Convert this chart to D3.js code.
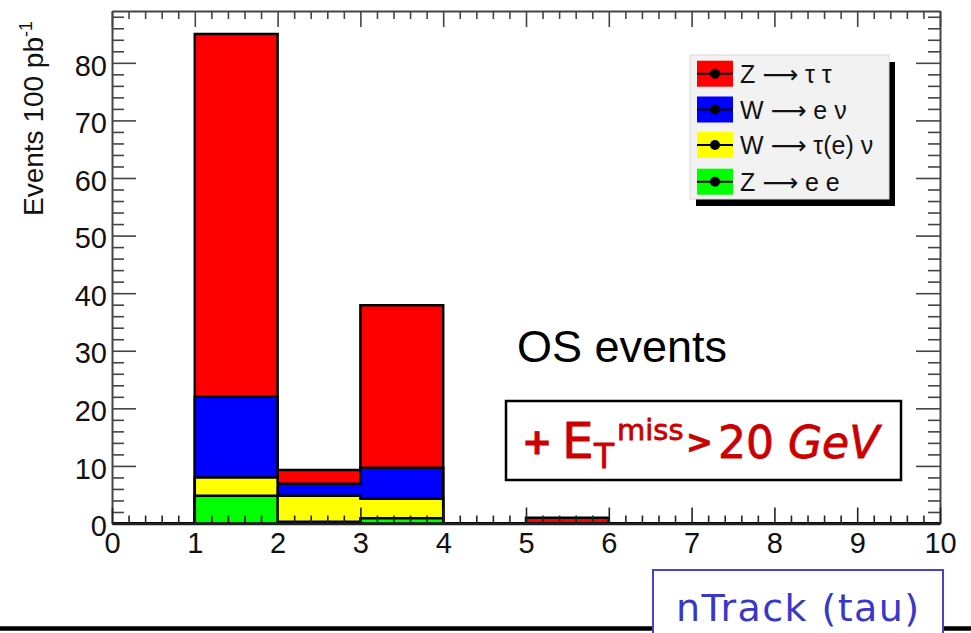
<!DOCTYPE html>
<html>
<head>
<meta charset="utf-8">
<script src="https://cdn.jsdelivr.net/npm/d3@7/dist/d3.min.js"></script>
<style>
  html, body { margin: 0; padding: 0; background: #fff; }
  svg { display: block; }
</style>
</head>
<body>
<svg id="chart" width="971" height="633"></svg>
<script>
// nTrack(tau) bins: lower edges 0..9, width 1
const binEdges = [0, 1, 2, 3, 4, 5, 6, 7, 8, 9, 10];

// Stacked contributions per bin (events / 100 pb^-1), bottom to top
const zee     = [0, 4.8, 0.3, 0.9, 0, 0,   0, 0, 0, 0];
const wtaunu  = [0, 3.2, 4.5, 3.4, 0, 0,   0, 0, 0, 0];
const wenu    = [0, 14.0, 2.1, 5.4, 0, 0,  0, 0, 0, 0];
const ztautau = [0, 63.0, 2.4, 28.2, 0, 1.0, 0, 0, 0, 0];

const seriesKeys   = ["zee", "wtaunu", "wenu", "ztautau"];
const seriesColors = { zee: "#00ff00", wtaunu: "#ffff00", wenu: "#0000ff", ztautau: "#ff0000" };

// Legend order (top to bottom): [lead, decay products]
const legendKeys   = ["ztautau", "wenu", "wtaunu", "zee"];
const legendLabels = [["Z", "\u03c4 \u03c4"], ["W", "e \u03bd"], ["W", "\u03c4(e) \u03bd"], ["Z", "e e"]];

const yMajorTicks = [0, 10, 20, 30, 40, 50, 60, 70, 80];
const xMajorTicks = [0, 1, 2, 3, 4, 5, 6, 7, 8, 9, 10];
const yMax = 89;

const svg = d3.select("#chart");
const frame = { left: 112, right: 940, top: 11, bottom: 523.5 };

const x = d3.scaleLinear().domain([0, 10]).range([frame.left, frame.right]);
const y = d3.scaleLinear().domain([0, yMax]).range([frame.bottom, frame.top]);

// Rows for d3.stack
const rows = binEdges.slice(0, -1).map((lo, i) => ({
  lo, zee: zee[i], wtaunu: wtaunu[i], wenu: wenu[i], ztautau: ztautau[i]
}));
const stacked = d3.stack().keys(seriesKeys)(rows);

// Histogram outline as a step area from zero to the cumulative top
const area = d3.area()
  .x(d => x(d.x))
  .y0(y(0))
  .y1(d => y(d.v))
  .curve(d3.curveStepAfter);

const hist = svg.append("g");
// Draw the tallest cumulative layer first so lower layers sit on top
stacked.slice().reverse().forEach(layer => {
  const pts = layer.map((d, i) => ({ x: binEdges[i], v: d[1] }));
  pts.push({ x: binEdges[binEdges.length - 1], v: layer[layer.length - 1][1] });
  hist.append("path")
    .attr("d", area(pts))
    .attr("fill", seriesColors[layer.key])
    .attr("stroke", "#000")
    .attr("stroke-width", 2.5)
    .attr("stroke-linejoin", "miter");
});

// Minor tick values
const yMinor = d3.range(0, yMax + 0.001, 2).filter(v => v % 10 !== 0);
const xMinor = d3.range(0, 10.001, 0.2).map(v => +v.toFixed(1)).filter(v => Math.abs(v - Math.round(v)) > 1e-6);

function styleAxis(g, color) {
  g.selectAll(".domain").attr("stroke", color).attr("stroke-width", 2);
  g.selectAll(".tick line").attr("stroke", color).attr("stroke-width", 1.6);
}

const axisFont = "Liberation Sans, Arial, Helvetica, sans-serif";

// Left axis
const gLeft = svg.append("g").attr("transform", `translate(${frame.left},0)`);
gLeft.call(d3.axisLeft(y).tickValues(yMajorTicks).tickSizeInner(-24).tickSizeOuter(0).tickPadding(5));
gLeft.append("g").call(d3.axisLeft(y).tickValues(yMinor).tickSizeInner(-12).tickSizeOuter(0).tickFormat(""))
  .select(".domain").remove();
styleAxis(gLeft, "#444");
gLeft.selectAll(".tick text")
  .attr("font-family", axisFont).attr("font-size", 29).attr("fill", "#111")
  .attr("dy", "0.42em");

// Right axis (ticks only)
const gRight = svg.append("g").attr("transform", `translate(${frame.right},0)`);
gRight.call(d3.axisRight(y).tickValues(yMajorTicks).tickSizeInner(-24).tickSizeOuter(0).tickFormat(""));
gRight.append("g").call(d3.axisRight(y).tickValues(yMinor).tickSizeInner(-12).tickSizeOuter(0).tickFormat(""))
  .select(".domain").remove();
styleAxis(gRight, "#444");

// Top axis (ticks only)
const gTop = svg.append("g").attr("transform", `translate(0,${frame.top})`);
gTop.call(d3.axisTop(x).tickValues(xMajorTicks).tickSizeInner(-16).tickSizeOuter(0).tickFormat(""));
gTop.append("g").call(d3.axisTop(x).tickValues(xMinor).tickSizeInner(-8).tickSizeOuter(0).tickFormat(""))
  .select(".domain").remove();
styleAxis(gTop, "#444");

// Bottom axis
const gBottom = svg.append("g").attr("transform", `translate(0,${frame.bottom})`);
gBottom.call(d3.axisBottom(x).tickValues(xMajorTicks).tickSizeInner(-16).tickSizeOuter(0).tickPadding(9));
gBottom.append("g").call(d3.axisBottom(x).tickValues(xMinor).tickSizeInner(-8).tickSizeOuter(0).tickFormat(""))
  .select(".domain").remove();
styleAxis(gBottom, "#222");
gBottom.select(".domain").attr("stroke-width", 2.5);
gBottom.selectAll(".tick text")
  .attr("font-family", axisFont).attr("font-size", 29).attr("fill", "#111");

// Y axis title
const yTitle = svg.append("text")
  .attr("transform", "translate(43,216) rotate(-90)")
  .attr("font-family", axisFont).attr("font-size", 28).attr("fill", "#111");
yTitle.append("tspan").text("Events 100 pb");
yTitle.append("tspan").attr("dy", -11).attr("font-size", 18).text("-1");

// Legend
const leg = { x: 690, y: 55, w: 199, h: 144 };
svg.append("rect").attr("x", leg.x + 6).attr("y", leg.y + 7).attr("width", leg.w).attr("height", leg.h).attr("fill", "#000");
svg.append("rect").attr("x", leg.x).attr("y", leg.y).attr("width", leg.w).attr("height", leg.h)
  .attr("fill", "#f2f2f2").attr("stroke", "#d8d8d8").attr("stroke-width", 1);
const rowCenters = [73.7, 109.5, 145, 181.7];
legendKeys.forEach((k, i) => {
  const cy = rowCenters[i];
  const g = svg.append("g");
  g.append("rect").attr("x", 697).attr("y", cy - 13).attr("width", 36).attr("height", 26)
    .attr("fill", seriesColors[k]);
  g.append("line").attr("x1", 697).attr("x2", 733).attr("y1", cy).attr("y2", cy)
    .attr("stroke", "#000").attr("stroke-width", 2);
  g.append("circle").attr("cx", 715).attr("cy", cy).attr("r", 5).attr("fill", "#000");
  const t = g.append("text").attr("x", 740).attr("y", cy + 9)
    .attr("font-family", axisFont).attr("font-size", 25).attr("fill", "#111");
  t.append("tspan").text(legendLabels[i][0] + " ");
  t.append("tspan").attr("font-family", "DejaVu Sans, sans-serif").attr("font-size", 25)
    .text("\u27f6");
  t.append("tspan").text(" " + legendLabels[i][1]);
});

// "OS events" annotation
svg.append("text").attr("x", 517).attr("y", 362)
  .attr("font-family", axisFont).attr("font-size", 45).attr("fill", "#000")
  .text("OS events");

// Cut box
const handFont = "DejaVu Sans, sans-serif";
svg.append("rect").attr("x", 506).attr("y", 401).attr("width", 395).attr("height", 79)
  .attr("fill", "#fff").attr("stroke", "#000").attr("stroke-width", 2.5);
const cut = svg.append("text").attr("font-family", handFont).attr("fill", "#cc0000")
  .attr("stroke", "#cc0000").attr("stroke-width", 0.8);
cut.append("tspan").attr("x", 522).attr("y", 454).attr("font-size", 36).attr("font-weight", "bold").text("+");
cut.append("tspan").attr("x", 562).attr("y", 458).attr("font-size", 50).text("E");
cut.append("tspan").attr("x", 594).attr("y", 468).attr("font-size", 33).text("T");
cut.append("tspan").attr("x", 617).attr("y", 440).attr("font-size", 29).text("miss");
cut.append("tspan").attr("x", 686).attr("y", 453).attr("font-size", 32).attr("font-weight", "bold").text(">");
cut.append("tspan").attr("x", 718).attr("y", 458).attr("font-size", 44).text("20 ");
cut.append("tspan").attr("font-size", 44).attr("font-style", "italic").text("GeV");

// Page rule and axis label box
svg.append("line").attr("x1", 0).attr("x2", 971).attr("y1", 628.5).attr("y2", 628.5)
  .attr("stroke", "#000").attr("stroke-width", 4.5);
svg.append("rect").attr("x", 653).attr("y", 570).attr("width", 290).attr("height", 80)
  .attr("fill", "#fff").attr("stroke", "#4444cc").attr("stroke-width", 2);
svg.append("text").attr("x", 676).attr("y", 621)
  .attr("font-family", handFont).attr("font-size", 38).attr("fill", "#3838c8")
  .attr("textLength", 243).attr("lengthAdjust", "spacing")
  .text("nTrack (tau)");
</script>
</body>
</html>
